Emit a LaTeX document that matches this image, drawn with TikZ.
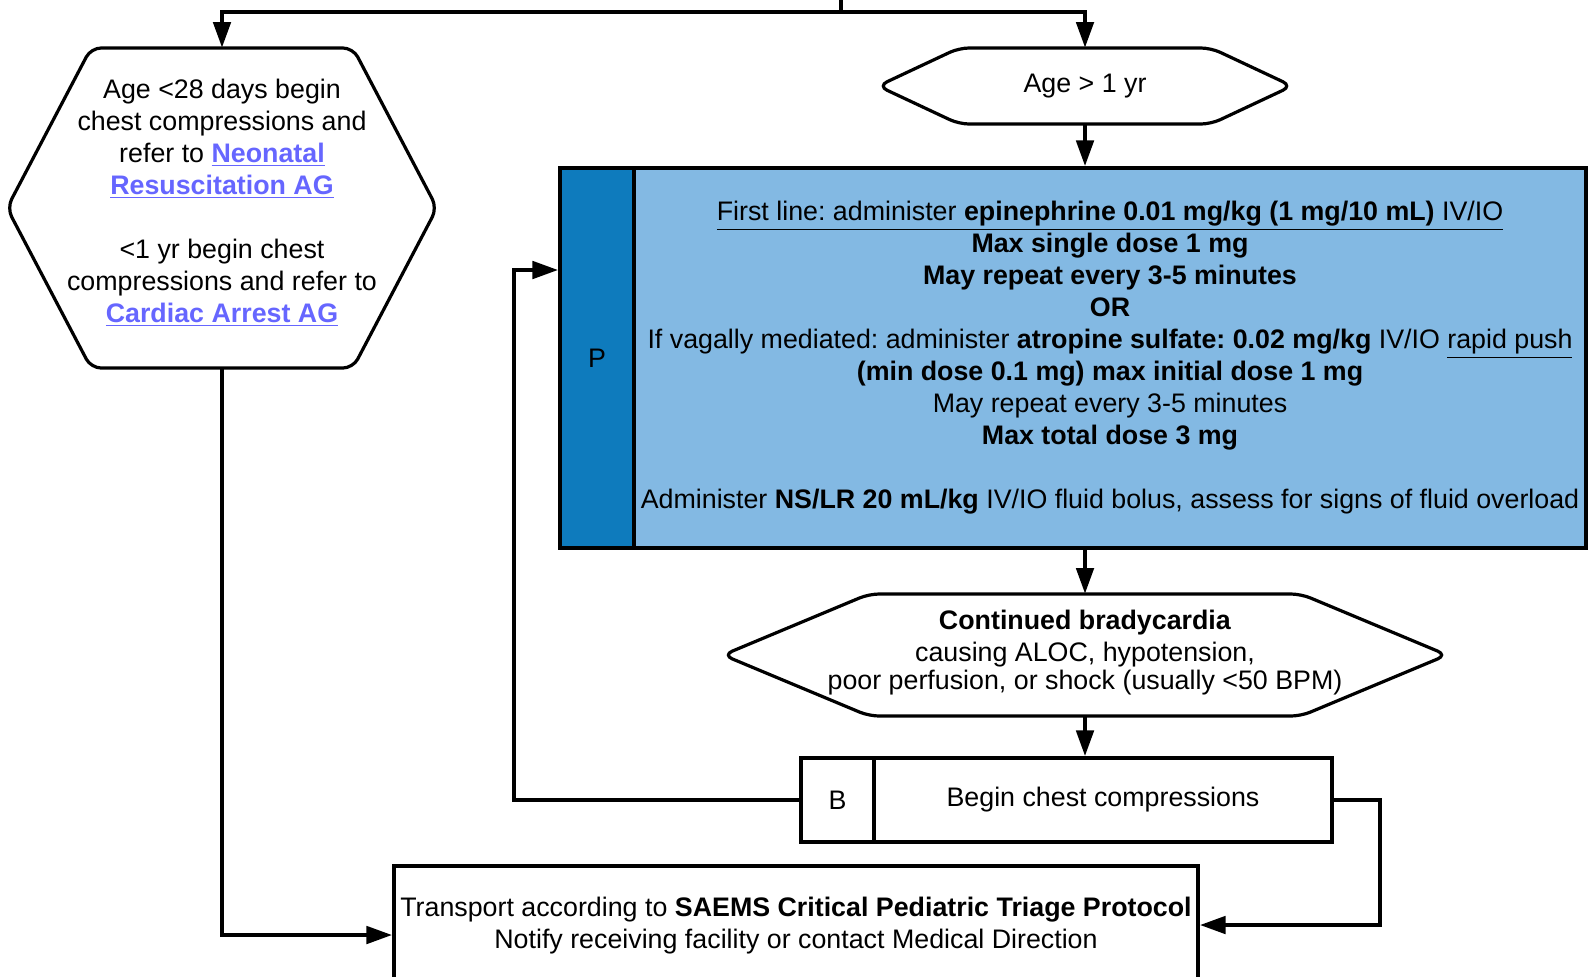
\documentclass[tikz,border=0pt]{standalone}
\usepackage{fontspec}
\setmainfont{Liberation Sans}
\usepackage{xcolor}
\usetikzlibrary{arrows.meta, positioning, calc}

\definecolor{linkblue}{RGB}{102,102,255}
\definecolor{pdark}{RGB}{14,123,189}
\definecolor{plight}{RGB}{131,185,227}

\newcommand{\aglink}[1]{\textcolor{linkblue}{\underline{\textbf{#1}}}}
% hexagon outline round a named centre: name, half top width, half height, tip offset
% also gives (name-top) and (name-bot)
\newcommand{\hexframe}[4]{%
  \draw[boxline, rounded corners=5pt] ($(#1)+(0,-#3)$) -- ($(#1)+(#2,-#3)$)
    -- ($(#1)+(#2+#4,0)$) -- ($(#1)+(#2,#3)$) -- ($(#1)+(-#2,#3)$)
    -- ($(#1)+(-#2-#4,0)$) -- ($(#1)+(-#2,-#3)$) -- cycle;
  \coordinate (#1-top) at ($(#1)+(0,-#3)$);
  \coordinate (#1-bot) at ($(#1)+(0,#3)$);}

\begin{document}
\frenchspacing
\begin{tikzpicture}[
    x=0.5pt, y=-0.5pt,
    font=\fontsize{13.4}{16}\selectfont,
    boxline/.style={line width=1.6pt, black},
    hextext/.style={inner sep=0pt, align=center},
    plainbox/.style={draw, line width=1.6pt, inner sep=0pt, align=center},
    flow/.style={-{Triangle[length=13pt, width=8.5pt]}, line width=2.4pt},
    wire/.style={line width=2.4pt},
]
\path[use as bounding box, clip] (0,0) rectangle (1588,976);

% --- age split ---
\coordinate (neo) at (222,208);
\node[hextext] (neotext) at (222,203)
  {Age <28 days begin\\chest compressions and\\refer to \aglink{Neonatal}\\\aglink{Resuscitation AG}\\[16pt]
   <1 yr begin chest\\compressions and refer to\\\aglink{Cardiac Arrest AG}};
\hexframe{neo}{131}{160}{84}

\node[hextext] (age) at (1085,86) {Age > 1 yr};
\hexframe{age}{126}{38}{81}

% --- P box ---
\node[plainbox, fill=pdark, minimum width=37pt, minimum height=190pt] (pstrip) at (597,358) {P};
\node[plainbox, fill=plight, minimum width=476pt, minimum height=190pt] (pmain) at (1110,358)
  {\underline{First line: administer \textbf{epinephrine 0.01 mg/kg (1 mg/10 mL)} IV/IO}\\
   \textbf{Max single dose 1 mg}\\
   \textbf{May repeat every 3-5 minutes}\\
   \textbf{OR}\\
   If vagally mediated: administer \textbf{atropine sulfate: 0.02 mg/kg} IV/IO \underline{rapid push}\\
   \textbf{(min dose 0.1 mg) max initial dose 1 mg}\\
   May repeat every 3-5 minutes\\
   \textbf{Max total dose 3 mg}\\[16pt]
   Administer \textbf{NS/LR 20 mL/kg} IV/IO fluid bolus, assess for signs of fluid overload};

% --- bradycardia check ---
\coordinate (brady) at (1085,655);
\node[hextext] (bradytext) at (1085,653)
  {\textbf{Continued bradycardia}\\causing ALOC, hypotension,\\[-2pt]poor perfusion, or shock (usually <50 BPM)};
\hexframe{brady}{216}{61}{146}

% --- B box ---
\node[plainbox, minimum width=36.5pt, minimum height=42pt] (bletter) at (837.5,800) {B};
\node[plainbox, minimum width=229pt, minimum height=42pt] (bmain) at (1103,800) {Begin chest compressions};

% --- transport ---
\node[plainbox, minimum width=402pt, minimum height=73pt] (transport) at (796,939)
  {Transport according to \textbf{SAEMS Critical Pediatric Triage Protocol}\\
   Notify receiving facility or contact Medical Direction\\~};

% ===================== EDGES =====================
\coordinate (split) at (841,12);
\draw[wire] (split) -- (841,-20);
\draw[flow] (split) -| (neo-top);
\draw[flow] (split) -| (age-top);

\draw[flow] (age-bot) -- (age-bot |- pmain.north);
\draw[flow] (age-bot |- pmain.south) -- (brady-top);
\draw[flow] (brady-bot) -- (brady-bot |- bmain.north);

% loop back to P
\coordinate (loopturn) at (514,270);
\draw[flow] (bletter.west) -| (loopturn) -- (loopturn -| pstrip.west);

% B -> transport, routed right
\coordinate (rturn) at (1380,925);
\draw[flow] (bmain.east) -| (rturn) -- (rturn -| transport.east);

% neonatal -> transport
\coordinate (lturn) at (222,935);
\draw[flow] (neo-bot) -- (lturn) -- (lturn -| transport.west);

\end{tikzpicture}
\end{document}
